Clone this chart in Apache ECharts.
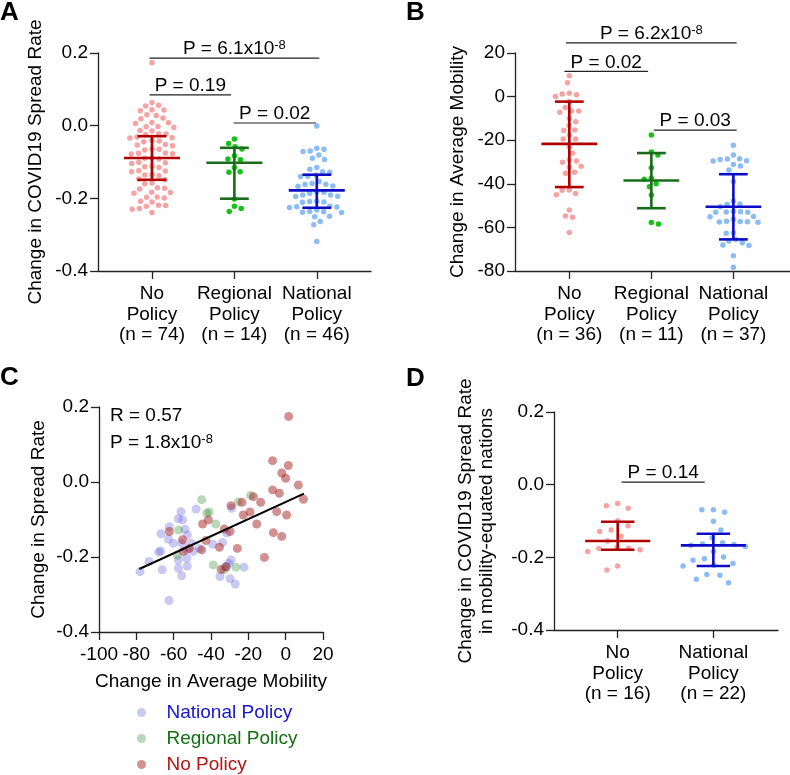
<!DOCTYPE html>
<html><head><meta charset="utf-8">
<script src="https://cdn.jsdelivr.net/npm/echarts@6/dist/echarts.min.js"></script>
<style>html,body{margin:0;padding:0;background:#fff}#c{width:790px;height:775px}</style>
</head><body><div id="c"></div>
<script>
// ---------- DATA ----------
// Panel A: change in COVID19 spread rate
const catA = ['No\nPolicy', 'Regional\nPolicy', 'National\nPolicy'];
const nA = [74, 14, 46];
const spreadNoA = [0.173, 0.064, 0.056, 0.054, 0.044, 0.043, 0.041, 0.030, 0.028, 0.021, 0.019,
  0.009, 0.008, 0.006, -0.002, -0.003, -0.005, -0.013, -0.015, -0.022, -0.023, -0.025,
  -0.031, -0.033, -0.034, -0.041, -0.042, -0.044, -0.052, -0.053, -0.055, -0.064, -0.065, -0.067,
  -0.075, -0.076, -0.078, -0.077, -0.089, -0.090, -0.092, -0.101, -0.102, -0.104,
  -0.112, -0.113, -0.115, -0.124, -0.125, -0.127, -0.135, -0.136, -0.138, -0.147, -0.149,
  -0.158, -0.160, -0.171, -0.172, -0.174, -0.183, -0.184, -0.186, -0.196, -0.197, -0.199,
  -0.208, -0.210, -0.219, -0.220, -0.222, -0.228, -0.230, -0.239];
const spreadRegA = [-0.037, -0.049, -0.058, -0.064, -0.083, -0.092, -0.094, -0.115, -0.127, -0.128,
  -0.202, -0.222, -0.228, -0.236];
const spreadNatA = [-0.001, -0.062, -0.065, -0.070, -0.071, -0.081, -0.090, -0.093, -0.115, -0.120,
  -0.127, -0.128, -0.136, -0.139, -0.140, -0.154, -0.159, -0.161, -0.162, -0.166, -0.167,
  -0.182, -0.183, -0.186, -0.191, -0.191, -0.194, -0.195, -0.208, -0.209, -0.210, -0.211,
  -0.222, -0.223, -0.224, -0.225, -0.232, -0.236, -0.237, -0.238, -0.239, -0.249, -0.251,
  -0.264, -0.273, -0.319];
const centerA = [-0.089, -0.102, -0.178];
const upperA = [-0.029, -0.061, -0.135];
const lowerA = [-0.149, -0.201, -0.226];
const pTextA = ['6.1x10^-8', '0.19', '0.02'];
const pFromA = [0.97, 0.97, 1.99];
const pToA = [3.03, 1.96, 2.99];
const pLevelA = [0.186, 0.085, 0.0074];

// Panel B: change in average mobility
const catB = ['No\nPolicy', 'Regional\nPolicy', 'National\nPolicy'];
const nB = [36, 11, 37];
const mobilityNoB = [9.6, 6.4, 1.5, 1.2, 0.8, 0, -2.3, -5, -6.6, -6.6, -7.2, -10, -11.5, -13.3, -15.3,
  -15.6, -17.7, -19.4, -19.4, -23, -26, -29, -29.5, -30.1, -32, -32.4, -34.7, -35.2, -42.8, -43,
  -44.5, -45, -52, -54.8, -55.4, -62.3];
const mobilityRegB = [-17.6, -25.4, -26.8, -32.6, -37.5, -37.9, -40, -41.3, -45.1, -57.7, -58.4];
const mobilityNatB = [-22.3, -26.8, -28.5, -28.6, -28.8, -29.4, -29.5, -31.1, -31.8, -33.7, -39.0,
  -47.9, -49.3, -49.5, -50.5, -52.8, -52.6, -53.0, -52.9, -53.1, -55.1, -55.0,
  -56.3, -57.4, -57.2, -57.5, -57.3, -57.6, -62.4, -62.7, -65.5, -66.2, -67.0, -68.1, -68.3,
  -73.0, -78.3];
const centerB = [-21.7, -38.5, -50.5];
const upperB = [-2.3, -25.9, -35.6];
const lowerB = [-41.5, -51.2, -65.5];
const pTextB = ['6.2x10^-8', '0.02', '0.03'];
const pFromB = [0.96, 0.94, 2.03];
const pToB = [3.04, 1.96, 3.04];
const pLevelB = [24.6, 11.6, -15.4];

// Panel C: mobility vs spread rate
const cNatX = [-78, -73.2, -66.1, -67, -68, -66.8, -62.3, -62.9, -56.1, -57.5, -55.2, -53.9, -52.6, -55.7,
  -50.7, -49.5, -53, -57.5, -52.7, -57.5, -55.7, -62.5, -48, -28.9, -39.1, -33.8, -31.6, -29.3, -30.5,
  -31.6, -35.2, -29.8, -27, -22.3, -60.2, -53, -46.3];
const cNatY = [-0.239, -0.212, -0.234, -0.184, -0.187, -0.138, -0.119, -0.152, -0.079, -0.098, -0.101,
  -0.126, -0.141, -0.163, -0.163, -0.185, -0.203, -0.208, -0.224, -0.23, -0.25, -0.316, -0.072, -0.070,
  -0.166, -0.161, -0.136, -0.208, -0.217, -0.226, -0.252, -0.258, -0.272, -0.227, -0.163, -0.181, -0.177];
const cRegX = [-45, -18.8, -25.4, -42.3, -41, -37.5, -57.3, -58, -38.8, -26.6, -32.9];
const cRegY = [-0.047, -0.036, -0.053, -0.083, -0.080, -0.112, -0.128, -0.195, -0.221, -0.227, -0.234];
const cNoX = [1.6, -7, 1.4, -2.1, 0, 6.8, -7, -3.4, 9.5, -17.3, -13.4, -23.4, -29.3, -4.8, 0.5, -19.1,
  -22.7, -15.5, -44.5, -41.4, -32.9, -29.8, -6.6, -2.1, -62.3, -42.7, -55.2, -35.5, -51.6, -54.8, -45,
  -25.9, -11.4, -34.6, -32.1];
const cNoY = [0.175, 0.057, 0.044, 0.024, 0.010, -0.008, -0.021, -0.030, -0.046, -0.039, -0.054, -0.054,
  -0.063, -0.079, -0.088, -0.080, -0.088, -0.112, -0.112, -0.101, -0.125, -0.132, -0.135, -0.145, -0.132,
  -0.156, -0.154, -0.174, -0.177, -0.185, -0.181, -0.177, -0.201, -0.233, -0.226];
const fitX = [-78.4, 9.8];
const fitY = [-0.232, -0.031];
const statsC = ['R = 0.57', 'P = 1.8x10^-8'];
const legendC = ['National Policy', 'Regional Policy', 'No Policy'];

// Panel D: mobility-equated nations
const catD = ['No\nPolicy', 'National\nPolicy'];
const nD = [16, 22];
const spreadNoD = [-0.052, -0.058, -0.065, -0.099, -0.113, -0.125, -0.129, -0.142, -0.155, -0.172, -0.175,
  -0.176, -0.179, -0.184, -0.224, -0.235];
const spreadNatD = [-0.069, -0.069, -0.076, -0.101, -0.125, -0.146, -0.160, -0.163, -0.165, -0.167, -0.170,
  -0.184, -0.199, -0.204, -0.208, -0.217, -0.222, -0.224, -0.247, -0.249, -0.260, -0.270];
const centerD = [-0.155, -0.167];
const upperD = [-0.102, -0.135];
const lowerD = [-0.179, -0.224];
const pTextD = ['0.14'];
const pFromD = [1.04];
const pToD = [1.91];
const pLevelD = [0.007];

// ---------- STYLE / LAYOUT ----------
const FONT = 'Liberation Sans, Arial, Helvetica, sans-serif';
const FS = 19;
const dotRed = '#f7a3a3', dotGreen = '#14c314', dotBlue = '#8cbcf4';
const barRed = '#b00000', barGreen = '#1a6b1a', barBlue = '#0d0dc8';
const grids = [
  {left: 98, top: 53, width: 273, height: 218, xmin: 0.345, xmax: 3.658, ymin: -0.4, ymax: 0.2},
  {left: 515, top: 53, width: 275, height: 218, xmin: 0.338, xmax: 3.69, ymin: -80, ymax: 20},
  {left: 99, top: 407, width: 224, height: 225, xmin: -100, xmax: 20, ymin: -0.4, ymax: 0.2},
  {left: 554, top: 412, width: 224, height: 218, xmin: 0.334, xmax: 2.676, ymin: -0.4, ymax: 0.2}
];

function swarm(values, center, g, minDist) {
  const kx = g.width / (g.xmax - g.xmin), ky = g.height / (g.ymax - g.ymin);
  const order = values.map((v, i) => i).sort((a, b) => values[b] - values[a]);
  const placed = [], out = new Array(values.length);
  order.forEach((i, n) => {
    const py = values[i] * ky;
    const cands = [0];
    placed.forEach(p => {
      const dy = Math.abs(p.py - py);
      if (dy < minDist) {
        const dx = Math.sqrt(minDist * minDist - dy * dy);
        cands.push(p.px + dx + 0.01, p.px - dx - 0.01);
      }
    });
    const sgn = n % 2 ? 1 : -1;
    cands.sort((a, b) => (Math.abs(a) - Math.abs(b)) || (sgn * (a - b)));
    let chosen = 0;
    for (const c of cands) {
      if (placed.every(p => (p.px - c) ** 2 + (p.py - py) ** 2 >= minDist * minDist - 0.02)) { chosen = c; break; }
    }
    placed.push({px: chosen, py});
    out[i] = [center + chosen / kx, values[i]];
  });
  return out;
}

function supText(s) {
  const parts = s.split('^');
  return parts.length > 1 ? '{a|' + parts[0] + '}{s|' + parts[1] + '}' : '{a|' + s + '}';
}
const richP = {
  a: {fontSize: FS, fontFamily: FONT, color: '#000', lineHeight: 20},
  s: {fontSize: 13, fontFamily: FONT, color: '#000', verticalAlign: 'top', lineHeight: 20}
};

function catXAxis(gi, labels, ns) {
  const g = grids[gi];
  const vals = labels.map((l, i) => i + 1);
  return {
    type: 'value', gridIndex: gi, min: g.xmin, max: g.xmax,
    axisLine: {show: true, onZero: false, lineStyle: {color: '#222', width: 1.3}},
    axisTick: {show: true, customValues: vals, length: 8, lineStyle: {color: '#222', width: 1.3}},
    axisLabel: {customValues: vals, formatter: v => labels[Math.round(v) - 1] + '\n(n = ' + ns[Math.round(v) - 1] + ')',
      fontSize: FS, fontFamily: FONT, color: '#000', lineHeight: 20.5, margin: 13},
    splitLine: {show: false}
  };
}
function valYAxis(gi, interval, fmt, name, gap) {
  const g = grids[gi];
  return {
    type: 'value', gridIndex: gi, min: g.ymin, max: g.ymax, interval,
    axisLine: {show: true, onZero: false, lineStyle: {color: '#222', width: 1.3}},
    axisTick: {show: true, length: 8, lineStyle: {color: '#222', width: 1.3}},
    axisLabel: {formatter: fmt, fontSize: FS, fontFamily: FONT, color: '#000', margin: 10},
    splitLine: {show: false},
    name, nameLocation: 'middle', nameGap: gap, nameRotate: 90,
    nameTextStyle: {fontSize: FS, fontFamily: FONT, color: '#000', lineHeight: 20.5}
  };
}

function errSeries(gi, centers, uppers, lowers, colors) {
  return {
    type: 'custom', xAxisIndex: gi, yAxisIndex: gi, z: 5, clip: false,
    data: centers.map((c, i) => [i + 1, c, uppers[i], lowers[i]]),
    renderItem: (params, api) => {
      const x = api.value(0), m = api.value(1), u = api.value(2), l = api.value(3);
      const col = colors[params.dataIndex];
      const st = {stroke: col, lineWidth: 2.6};
      const seg = (x1, y1, x2, y2) => {
        const a = api.coord([x1, y1]), b = api.coord([x2, y2]);
        return {type: 'line', shape: {x1: a[0], y1: a[1], x2: b[0], y2: b[1]}, style: st};
      };
      return {type: 'group', children: [
        seg(x - 0.34, m, x + 0.34, m), seg(x - 0.175, u, x + 0.175, u),
        seg(x - 0.175, l, x + 0.175, l), seg(x, u, x, l)]};
    }
  };
}
function bracketSeries(gi, texts, froms, tos, levels) {
  return {
    type: 'custom', xAxisIndex: gi, yAxisIndex: gi, z: 5, clip: false,
    data: texts.map((t, i) => [froms[i], tos[i], levels[i]]),
    renderItem: (params, api) => {
      const a = api.coord([api.value(0), api.value(2)]), b = api.coord([api.value(1), api.value(2)]);
      return {type: 'group', children: [
        {type: 'line', shape: {x1: a[0], y1: a[1], x2: b[0], y2: b[1]}, style: {stroke: '#222', lineWidth: 1.2}},
        {type: 'text', x: (a[0] + b[0]) / 2, y: a[1] + 1,
          style: {text: supText('P = ' + texts[params.dataIndex]), rich: richP, align: 'center', verticalAlign: 'bottom'}}
      ]};
    }
  };
}
function dots(gi, values, center, color, size, minDist) {
  return {type: 'scatter', xAxisIndex: gi, yAxisIndex: gi, z: 3, symbolSize: size, silent: true,
    itemStyle: {color, opacity: 1}, data: swarm(values, center, grids[gi], minDist)};
}

const chart = echarts.init(document.getElementById('c'), null, {renderer: 'canvas'});
const option = {
  animation: false,
  backgroundColor: '#fff',
  textStyle: {fontFamily: FONT},
  grid: grids.map(g => ({left: g.left, top: g.top, width: g.width, height: g.height, containLabel: false, outerBoundsMode: 'none'})),
  xAxis: [
    catXAxis(0, catA, nA),
    catXAxis(1, catB, nB),
    {type: 'value', gridIndex: 2, min: -100, max: 20, interval: 20,
      axisLine: {show: true, onZero: false, lineStyle: {color: '#222', width: 1.3}},
      axisTick: {show: true, length: 8, lineStyle: {color: '#222', width: 1.3}},
      axisLabel: {fontSize: FS, fontFamily: FONT, color: '#000', margin: 13},
      splitLine: {show: false},
      name: 'Change in Average Mobility', nameLocation: 'middle', nameGap: 40,
      nameTextStyle: {fontSize: FS, fontFamily: FONT, color: '#000'}},
    catXAxis(3, catD, nD)
  ],
  yAxis: [
    valYAxis(0, 0.2, v => v.toFixed(1), 'Change in COVID19 Spread Rate', 52),
    valYAxis(1, 20, v => String(Math.round(v)), 'Change in Average Mobility', 47),
    valYAxis(2, 0.2, v => v.toFixed(1), 'Change in Spread Rate', 50),
    valYAxis(3, 0.2, v => v.toFixed(1), 'Change in COVID19 Spread Rate\nin mobility-equated nations', 57)
  ],
  legend: {
    orient: 'vertical', left: 137, top: 703, itemWidth: 40, itemHeight: 9, itemGap: 7, padding: 0,
    height: 75, icon: 'circle', selectedMode: false,
    data: [
      {name: legendC[0], textStyle: {color: '#1414d2'}},
      {name: legendC[1], textStyle: {color: '#127012'}},
      {name: legendC[2], textStyle: {color: '#b31414'}}
    ],
    textStyle: {fontSize: FS, fontFamily: FONT, lineHeight: 19}
  },
  series: [
    dots(0, spreadNoA, 1, dotRed, 5.5, 7.2), dots(0, spreadRegA, 2, dotGreen, 5.5, 7.2), dots(0, spreadNatA, 3, dotBlue, 5.5, 7.2),
    errSeries(0, centerA, upperA, lowerA, [barRed, barGreen, barBlue]),
    bracketSeries(0, pTextA, pFromA, pToA, pLevelA),
    dots(1, mobilityNoB, 1, dotRed, 5.5, 7.2), dots(1, mobilityRegB, 2, dotGreen, 5.5, 7.2), dots(1, mobilityNatB, 3, dotBlue, 5.5, 7.2),
    errSeries(1, centerB, upperB, lowerB, [barRed, barGreen, barBlue]),
    bracketSeries(1, pTextB, pFromB, pToB, pLevelB),
    {name: legendC[0], type: 'scatter', xAxisIndex: 2, yAxisIndex: 2, symbolSize: 9,
      itemStyle: {color: 'rgba(105,105,220,0.45)'}, data: cNatX.map((x, i) => [x, cNatY[i]])},
    {name: legendC[1], type: 'scatter', xAxisIndex: 2, yAxisIndex: 2, symbolSize: 9,
      itemStyle: {color: 'rgba(40,130,40,0.4)'}, data: cRegX.map((x, i) => [x, cRegY[i]])},
    {name: legendC[2], type: 'scatter', xAxisIndex: 2, yAxisIndex: 2, symbolSize: 9,
      itemStyle: {color: 'rgba(160,25,25,0.6)'}, data: cNoX.map((x, i) => [x, cNoY[i]])},
    {type: 'line', xAxisIndex: 2, yAxisIndex: 2, symbol: 'none', z: 6,
      lineStyle: {color: '#000', width: 2}, data: fitX.map((x, i) => [x, fitY[i]])},
    dots(3, spreadNoD, 1, dotRed, 5.5, 11.5), dots(3, spreadNatD, 2, dotBlue, 5.5, 11.5),
    errSeries(3, centerD, upperD, lowerD, [barRed, barBlue]),
    bracketSeries(3, pTextD, pFromD, pToD, pLevelD)
  ],
  graphic: [
    {type: 'text', left: 0, top: 0, style: {text: 'A', font: 'bold 26px ' + FONT, fill: '#000'}},
    {type: 'text', left: 406, top: 0, style: {text: 'B', font: 'bold 26px ' + FONT, fill: '#000'}},
    {type: 'text', left: 0, top: 365, style: {text: 'C', font: 'bold 26px ' + FONT, fill: '#000'}},
    {type: 'text', left: 406, top: 366, style: {text: 'D', font: 'bold 26px ' + FONT, fill: '#000'}},
    {type: 'text', left: 110, top: 406, style: {text: supText(statsC[0]), rich: richP}},
    {type: 'text', left: 110, top: 433, style: {text: supText(statsC[1]), rich: richP}}
  ]
};
chart.setOption(option);
</script></body></html>
